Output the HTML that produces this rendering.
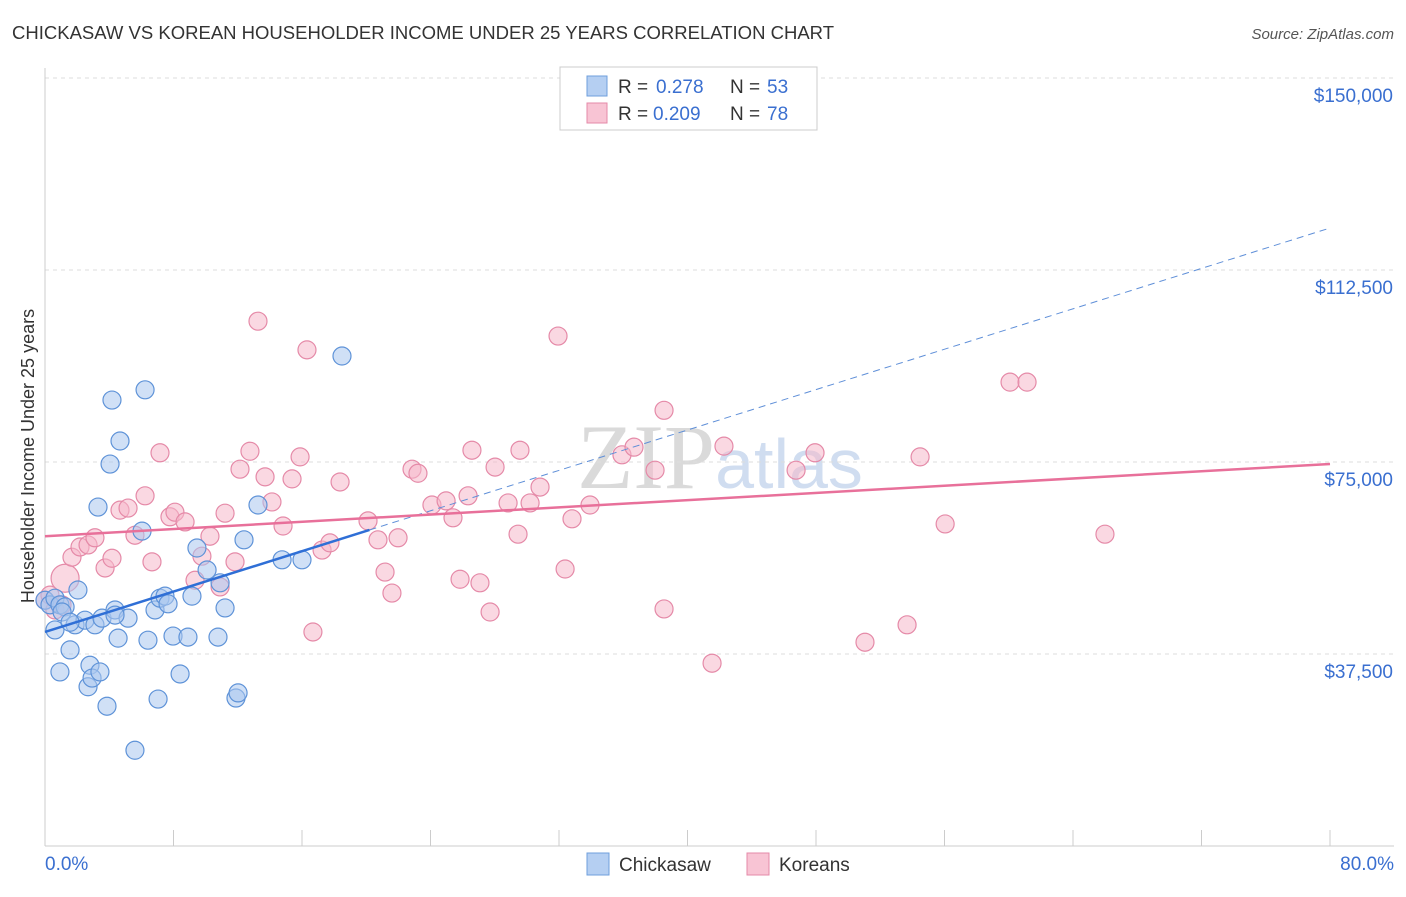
<!DOCTYPE html>
<html><head><meta charset="utf-8">
<style>
html,body{margin:0;padding:0;background:#fff;}
body{width:1406px;height:892px;overflow:hidden;font-family:"Liberation Sans",sans-serif;}
svg text{font-family:"Liberation Sans",sans-serif;}
</style></head>
<body>
<svg id="chart" width="1406" height="892">
<text x="12" y="39" font-size="18" fill="#333" textLength="822" lengthAdjust="spacingAndGlyphs">CHICKASAW VS KOREAN HOUSEHOLDER INCOME UNDER 25 YEARS CORRELATION CHART</text>
<text x="1394" y="39" font-size="15" fill="#555" font-style="italic" text-anchor="end">Source: ZipAtlas.com</text>
<text x="720" y="488" font-size="92" fill="#d6dde8" text-anchor="middle" font-family="Liberation Serif"><tspan fill="#dadada" font-family="Liberation Serif">ZIP</tspan><tspan fill="#d0ddf0" font-family="Liberation Sans" font-size="70">atlas</tspan></text>
<g id="grid"></g>
<g id="axes"></g>
<g id="pts"></g>
<g id="trend"></g>
<text transform="translate(34,456) rotate(-90)" font-size="18" fill="#333" text-anchor="middle">Householder Income Under 25 years</text>
<g>
<rect x="560" y="67" width="257" height="63" fill="#fff" stroke="#ccc"/>
<rect x="587" y="76" width="20" height="20" fill="#b5cff2" stroke="#6f9fdc"/>
<text x="618" y="93" font-size="19" fill="#333">R =</text>
<text x="656" y="93" font-size="19" fill="#3a6fd0">0.278</text>
<text x="730" y="93" font-size="19" fill="#333">N =</text>
<text x="767" y="93" font-size="19" fill="#3a6fd0">53</text>
<rect x="587" y="103" width="20" height="20" fill="#f8c4d4" stroke="#e58aa8"/>
<text x="618" y="120" font-size="19" fill="#333">R =</text>
<text x="653" y="120" font-size="19" fill="#3a6fd0">0.209</text>
<text x="730" y="120" font-size="19" fill="#333">N =</text>
<text x="767" y="120" font-size="19" fill="#3a6fd0">78</text>
</g>
<g>
<rect x="587" y="853" width="22" height="22" fill="#b5cff2" stroke="#6f9fdc"/>
<text x="619" y="871" font-size="19" fill="#333">Chickasaw</text>
<rect x="747" y="853" width="22" height="22" fill="#f8c4d4" stroke="#e58aa8"/>
<text x="779" y="871" font-size="19" fill="#333">Koreans</text>
</g>
</svg>
<script>
const yTicks=[37500,75000,112500,150000];
const yTickLabels=["$37,500","$75,000","$112,500","$150,000"];
const xTickLabels=["0.0%","80.0%"];
const blueX=[0,0.31,0.62,0.93,1.25,0.62,0.93,1.56,1.87,2.05,2.49,2.80,2.68,3.11,2.93,3.42,3.30,3.55,3.86,4.17,4.05,4.36,4.55,4.67,5.17,5.60,6.04,6.23,6.41,6.85,7.04,7.16,7.47,7.66,7.97,8.41,8.90,9.15,9.46,10.09,10.77,10.90,11.21,11.89,12.02,12.39,13.26,14.76,16.00,18.49,4.36,1.06,1.56];
const blueY=[48.0,47.1,48.4,47.1,46.7,42.2,34.0,38.3,43.2,50.0,44.1,35.3,31.1,43.2,32.8,34.0,66.2,44.5,27.3,87.1,74.6,46.1,40.6,79.1,44.5,18.7,61.5,89.1,40.2,46.1,28.7,48.4,48.8,47.3,41.0,33.6,40.8,48.8,58.2,53.9,40.8,51.4,46.5,28.9,29.9,59.8,66.6,55.9,55.9,95.7,45.1,45.7,43.7];
const pinkX=[0,0.31,0.62,1.06,1.25,1.68,2.18,2.68,3.11,3.74,4.17,4.67,5.17,5.60,6.23,6.66,7.16,7.78,8.09,8.72,9.34,9.77,10.27,10.90,11.21,11.83,12.14,12.76,13.26,13.70,14.13,14.82,15.38,15.88,16.31,16.68,17.25,17.74,18.37,20.11,21.17,21.60,20.73,21.98,22.85,23.22,24.09,24.97,25.40,25.84,26.34,26.58,27.08,27.71,28.02,28.83,29.45,29.57,30.20,30.82,31.94,32.38,32.81,33.93,35.92,36.67,37.98,38.54,38.54,41.53,42.27,46.76,47.94,51.05,53.67,54.48,56.04,60.08,61.14,65.99];
const pinkY=[48.0,49.0,46.1,47.1,52.3,56.4,58.4,58.8,60.2,54.3,56.2,65.6,66.0,60.7,68.4,55.5,76.8,64.3,65.2,63.3,51.9,56.6,60.5,50.6,65.0,55.5,73.6,77.1,102.5,72.1,67.2,62.5,71.7,76.0,96.9,41.8,57.8,59.2,71.1,63.5,53.5,49.4,59.8,60.2,73.6,72.8,66.6,67.4,64.1,52.1,68.4,77.3,51.4,45.7,74.0,67.0,60.9,77.3,67.0,70.1,99.6,54.1,63.9,66.6,76.4,77.9,73.4,85.1,46.3,35.7,78.1,73.4,76.8,39.8,43.2,76.0,62.9,90.6,90.6,60.9];
const blueTrend=[41.8,120.7]; // value (k$) at 0% and 80%
const pinkTrend=[60.5,74.6];
const blueSolidEnd=[20.2];
const NS="http://www.w3.org/2000/svg";
const X0=45,X1=1330,Ybase=846,PX=192/37.5;
const xs=v=>X0+(v/80)*(X1-X0);
const ys=k=>Ybase-k*PX;
function mk(tag,attrs,parent){const e=document.createElementNS(NS,tag);for(const k in attrs)e.setAttribute(k,attrs[k]);parent.appendChild(e);return e;}
const grid=document.getElementById('grid'),axes=document.getElementById('axes'),pts=document.getElementById('pts'),trend=document.getElementById('trend');
yTicks.forEach((t,i)=>{const y=ys(t/1000);
 const l=mk('line',{x1:X0,x2:1394,y1:y,y2:y,stroke:'#ddd','stroke-dasharray':'4,4'},grid);
 
 
 const tx=mk('text',{x:1393,y:y+24,'font-size':19,fill:'#3a6fd0','text-anchor':'end'},axes);tx.textContent=yTickLabels[i];
 
 
});
const ax=mk('line',{x1:X0,x2:X0,y1:68,y2:846,stroke:'#ccc'},axes);


const bx=mk('line',{x1:X0,x2:1394,y1:846,y2:846,stroke:'#ccc'},axes);


for(let i=0;i<=10;i++){const x=xs(i*8);const t=mk('line',{x1:x,x2:x,y1:830,y2:846,stroke:'#ccc'},axes);
 
 }
[[0,'start',45],[80,'end',1394]].forEach((d,i)=>{const t=mk('text',{x:d[2],y:870,'font-size':19,fill:'#3a6fd0','text-anchor':d[1]},axes);t.textContent=xTickLabels[i];
 
 });
function dots(X,Y,fill,stroke,name){X.forEach((x,i)=>{const c=mk('circle',{cx:xs(x),cy:ys(Y[i]),r:(i===4&&name==='korean-point')?14:9,fill:fill,'fill-opacity':0.55,stroke:stroke,'stroke-width':1.2},pts);
 
 });}
dots(pinkX,pinkY,'#f5b8cb','#e58aa8','korean-point');
dots(blueX,blueY,'#a9c6ee','#5f93d8','chickasaw-point');
const at=(tr,x)=>tr[0]+(tr[1]-tr[0])*x/80;
const b1=mk('line',{x1:xs(0),y1:ys(at(blueTrend,0)),x2:xs(blueSolidEnd[0]),y2:ys(at(blueTrend,blueSolidEnd[0])),stroke:'#2f6fd6','stroke-width':2.5},trend);


const b2=mk('line',{x1:xs(blueSolidEnd[0]),y1:ys(at(blueTrend,blueSolidEnd[0])),x2:xs(80),y2:ys(at(blueTrend,80)),stroke:'#5f8fd8','stroke-width':1,'stroke-dasharray':'7,5'},trend);


const p1=mk('line',{x1:xs(0),y1:ys(at(pinkTrend,0)),x2:xs(80),y2:ys(at(pinkTrend,80)),stroke:'#e8709a','stroke-width':2.5},trend);


</script>
</body></html>
